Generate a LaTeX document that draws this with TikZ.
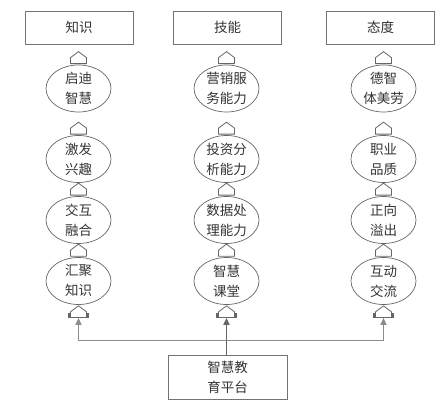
\documentclass[tikz,border=0pt]{standalone}
\usepackage{fontspec}
\setmainfont{Noto Sans CJK SC}
\usetikzlibrary{shapes.geometric,arrows.meta,calc}
\begin{document}
\begin{tikzpicture}[x=1pt,y=-1pt,
  font=\fontsize{13.5}{20}\selectfont,
  labbox/.style={draw=black!55, line width=0.7pt, rectangle, minimum width=108pt, minimum height=33pt, inner sep=0pt, text=black!80},
  ell/.style={draw=black!60, line width=0.7pt, ellipse, minimum width=65pt, minimum height=47pt, inner sep=0pt, align=center, text=black!80},
  house/.pic={\draw[black!60,line width=0.8pt,line join=miter] (-8,0) -- (-8,-6) -- (0,-12) -- (8,-6) -- (8,0) -- cycle;},
  housefoot/.pic={\draw[black!60,line width=0.8pt,line join=miter] (-8,-1) -- (-8,-6) -- (0,-12) -- (8,-6) -- (8,-1);
                  \draw[black!60,line width=1.1pt] (-9.5,-5) -- (-9.5,0) -- (9.5,0) -- (9.5,-5);},
  sidearrow/.style={draw=black!45, line width=1.3pt, -{Triangle[length=7pt,width=6pt]}},
  midarrow/.style={draw=black!60, line width=1.8pt, -{Triangle[length=7pt,width=6pt]}}
]
\useasboundingbox (0,0) rectangle (448,404);

% top category boxes
\node[labbox] (bk) at (79,27.5) {知识};
\node[labbox] (bs) at (227.5,27.5) {技能};
\node[labbox] (ba) at (380.5,27.5) {态度};

% left column
\node[ell] (l1) at (78.5,88.5) {启迪\\智慧};
\node[ell] (l2) at (78.5,159) {激发\\兴趣};
\node[ell] (l3) at (78.5,220) {交互\\融合};
\node[ell] (l4) at (78.5,281) {汇聚\\知识};

% middle column
\node[ell] (m1) at (226.5,88.5) {营销服\\务能力};
\node[ell] (m2) at (226.5,159) {投资分\\析能力};
\node[ell] (m3) at (226.5,220) {数据处\\理能力};
\node[ell] (m4) at (226.5,281) {智慧\\课堂};

% right column
\node[ell] (r1) at (383.5,88.5) {德智\\体美劳};
\node[ell] (r2) at (383.5,159) {职业\\品质};
\node[ell] (r3) at (383.5,220) {正向\\溢出};
\node[ell] (r4) at (383.5,281) {互动\\交流};

% bottom platform
\node[labbox, minimum width=119pt, minimum height=44pt, align=center] (bp) at (227.5,377) {智慧教\\育平台};

% house connectors
\foreach \c in {l,m,r}{
  \pic at ($(\c1.north)+(0,-1)$) {house};
  \pic at ($(\c2.north)+(0,-1)$) {house};
  \pic at ($(\c3.north)+(0,-1)$) {house};
  \pic at ($(\c4.north)+(0,-1)$) {house};
  \coordinate (\c5) at ($(\c4.south)+(0,13)$);
  \pic at (\c5) {housefoot};
}

% platform arrows
\coordinate (j) at ($(bp.north)+(0,-14)$);
\draw[sidearrow] (j) -| (l5);
\draw[sidearrow] (j) -| (r5);
\draw[midarrow] (bp.north -| m5) -- (m5);
\end{tikzpicture}
\end{document}
